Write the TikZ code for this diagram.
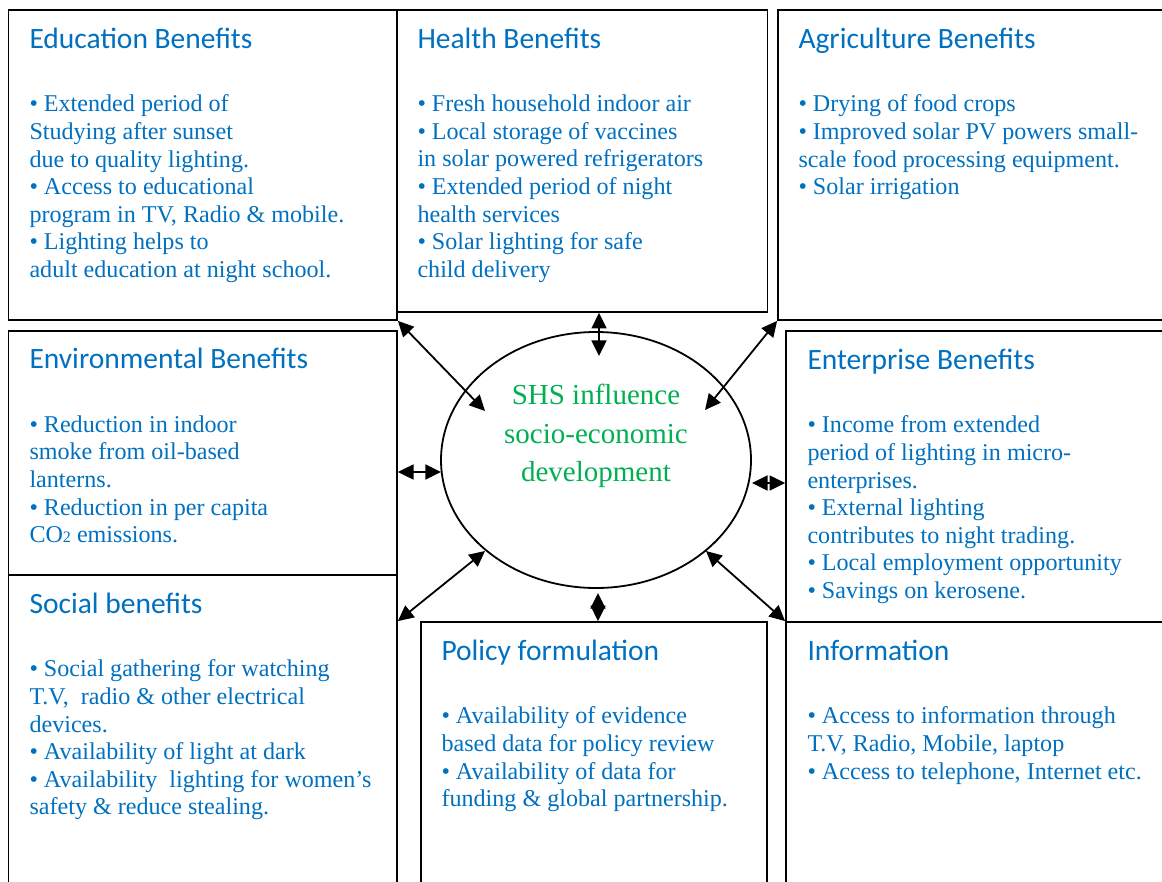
\documentclass[tikz,border=0pt]{standalone}
\usepackage{fontspec}
\setmainfont{Liberation Serif}
\newfontfamily\calibri{Carlito}
\usetikzlibrary{arrows.meta,fit,shapes.geometric}
\definecolor{txtblue}{HTML}{0070C0}
\definecolor{shsgreen}{HTML}{00B050}
\begin{document}
\begin{tikzpicture}[x=0.5pt,y=-0.5pt,>={Triangle[length=7.8pt,width=7.5pt]},
	box/.style={draw,line width=0.9pt,inner sep=0pt,fit={#1}},
	head/.style={anchor=base west,inner sep=0pt,text=txtblue,font=\calibri\fontsize{14.75}{17}\selectfont},
	body/.style={anchor=north west,inner sep=0pt,align=left,text=txtblue,font=\fontsize{12.05}{13.8}\selectfont},
	link/.style={<->,line width=0.9pt}]
		\useasboundingbox (0,0) rectangle (1162,882);
		% boxes
		\node[box={(8.5,10)(397,320)}] (edu) {};
		\node[box={(397,10)(767.5,312)}] (health) {};
		\node[box={(778,10)(1170,320)}] (agri) {};
		\node[box={(8.5,331)(397,575)}] (env) {};
		\node[box={(786,331)(1170,622)}] (ent) {};
		\node[box={(8.5,575)(397,890)}] (soc) {};
		\node[box={(421,622)(767,890)}] (pol) {};
		\node[box={(786,622)(1170,890)}] (info) {};
		% centre
		\node[draw,ellipse,line width=0.9pt,minimum width=155pt,minimum height=128pt,inner sep=0pt] (shs) at (596,460) {};
		\node[text=shsgreen,align=center,inner sep=0pt,font=\fontsize{14.5}{19.25}\selectfont] (shstext) at (596,436) {SHS influence\\socio-economic\\development};
		% texts
		\node[head] (eduhead) at ([shift={(21.5,39.5)}]edu.north west) {Education Benefits};
		\node[body] (edutext) at ([shift={(21.5,85.5)}]edu.north west) {• Extended period of\\Studying after sunset\\due to quality lighting.\\• Access to educational\\program in TV, Radio \& mobile.\\• Lighting helps to\\adult education at night school.};
		\node[head] (healthhead) at ([shift={(21,39.5)}]health.north west) {Health Benefits};
		\node[body] (healthtext) at ([shift={(21,85.5)}]health.north west) {• Fresh household indoor air\\• Local storage of vaccines\\in solar powered refrigerators\\• Extended period of night\\health services\\• Solar lighting for safe\\child delivery};
		\node[head] (agrihead) at ([shift={(21,39.5)}]agri.north west) {Agriculture Benefits};
		\node[body] (agritext) at ([shift={(21,85.5)}]agri.north west) {• Drying of food crops\\• Improved solar PV powers small-\\scale food processing equipment.\\• Solar irrigation};
		\node[head] (envhead) at ([shift={(21.5,38.5)}]env.north west) {Environmental Benefits};
		\node[body] (envtext) at ([shift={(21.5,85)}]env.north west) {• Reduction in indoor\\smoke from oil-based\\lanterns.\\• Reduction in per capita\\CO{\fontsize{8}{8}\selectfont 2} emissions.};
		\node[head] (enthead) at ([shift={(22,39.5)}]ent.north west) {Enterprise Benefits};
		\node[body] (enttext) at ([shift={(22,85.5)}]ent.north west) {• Income from extended\\period of lighting in micro-\\enterprises.\\• External lighting\\contributes to night trading.\\• Local employment opportunity\\• Savings on kerosene.};
		\node[head] (sochead) at ([shift={(21.5,39.5)}]soc.north west) {Social benefits};
		\node[body] (soctext) at ([shift={(21.5,85.5)}]soc.north west) {• Social gathering for watching\\T.V, \ radio \& other electrical\\devices.\\• Availability of light at dark\\• Availability \ lighting for women’s\\safety \& reduce stealing.};
		\node[head] (polhead) at ([shift={(21,39.5)}]pol.north west) {Policy formulation};
		\node[body] (poltext) at ([shift={(21,85.5)}]pol.north west) {• Availability of evidence\\based data for policy review\\• Availability of data for\\funding \& global partnership.};
		\node[head] (infohead) at ([shift={(22,39.5)}]info.north west) {Information};
		\node[body] (infotext) at ([shift={(22,85.5)}]info.north west) {• Access to information through\\T.V, Radio, Mobile, laptop\\• Access to telephone, Internet etc.};
		% arrow ends inside the ellipse
		\coordinate (c1) at ([shift={(3,-104)}]shs.center);
		\coordinate (c2) at ([shift={(-111,-49)}]shs.center);
		\coordinate (c3) at ([shift={(109,-50)}]shs.center);
		\coordinate (c4) at ([shift={(-155,12)}]shs.center);
		\coordinate (c5) at ([shift={(156,23)}]shs.center);
		\coordinate (c6) at ([shift={(-111,91)}]shs.center);
		\coordinate (c7) at ([shift={(110,91)}]shs.center);
		\coordinate (c8) at ([shift={(2,133)}]shs.center);
		\draw[link] (health.south -| c1)--(c1);
		\draw[link] (edu.south east)--(c2);
		\draw[link] (agri.south west)--(c3);
		\draw[link] (env.east |- c4)--(c4);
		\draw[link] (ent.west |- c5)--(c5);
		\draw[link] (soc.east |- pol.north)--(c6);
		\draw[link] (info.north west)--(c7);
		\draw[link] (pol.north -| c8)--(c8);
	\end{tikzpicture}
\end{document}
